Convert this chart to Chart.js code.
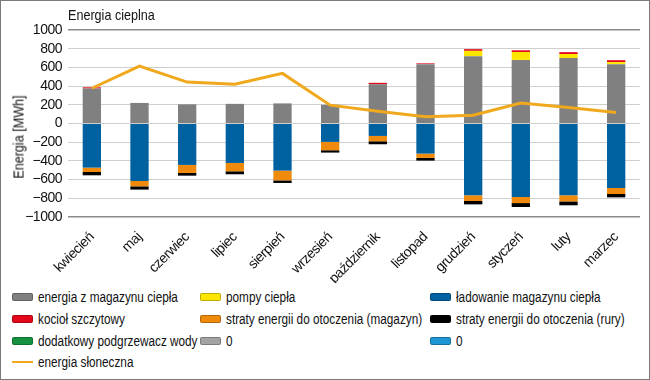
<!DOCTYPE html>
<html>
<head>
<meta charset="utf-8">
<script src="https://cdn.jsdelivr.net/npm/chart.js@4.4.1/dist/chart.umd.min.js"></script>
<style>
  body { margin: 0; background: #fff; }
  #box {
    position: relative; width: 650px; height: 380px; box-sizing: border-box;
    border: 1px solid #7a7a7a; background: #fff; overflow: hidden;
    font-family: 'Liberation Sans', Arial, sans-serif;
    color: #111;
  }
  #wrap { position: absolute; left: 0; top: 0; width: 648px; height: 282px; }
  .narrow { display: inline-block; transform: scaleX(0.84); transform-origin: left center; white-space: nowrap; }
  #title { position: absolute; left: 67px; top: 5px; font-size: 15px; }
  #ytitle {
    position: absolute; left: 17px; top: 136px; font-size: 15px; white-space: nowrap;
    transform: translate(-50%, -50%) rotate(-90deg) scaleX(0.84);
  }
  #legend { position: absolute; left: 0; top: 285px; width: 648px; height: 92px; }
  .item { position: absolute; display: flex; align-items: center; font-size: 14px; white-space: nowrap; }
  .sw { width: 21px; height: 8px; border-radius: 2px; margin-right: 5px; box-sizing: border-box; flex: none; }
  .ln { width: 21px; height: 2px; margin-right: 5px; flex: none; }
</style>
</head>
<body>
<div id="box">
  <div id="wrap"><canvas id="chart"></canvas></div>
  <div id="title"><span class="narrow">Energia cieplna</span></div>
  <div id="ytitle">Energia [MWh]</div>
  <div id="legend"></div>
</div>
<script>
const months = ['kwiecień', 'maj', 'czerwiec', 'lipiec', 'sierpień', 'wrzesień',
    'październik', 'listopad', 'grudzień', 'styczeń', 'luty', 'marzec'];

// positive side (MWh)
const zMagazynu = [375, 220, 205, 210, 215, 200, 420, 635, 720, 680, 700, 635];
const pompy = [0, 0, 0, 0, 0, 0, 0, 0, 57, 85, 43, 22];
const kociol = [12, 0, 0, 0, 0, 0, 15, 8, 18, 18, 20, 20];
const podgrzewacz = [0, 0, 0, 0, 0, 0, 0, 0, 0, 0, 0, 0];
const zeroA = [0, 0, 0, 0, 0, 0, 0, 0, 0, 0, 0, 0];

// negative side (MWh)
const ladowanie = [-472, -615, -443, -422, -504, -197, -133, -322, -768, -786, -768, -690];
const stratyMagazyn = [-47, -57, -86, -89, -104, -89, -57, -46, -61, -65, -65, -64];
const stratyRury = [-35, -35, -29, -32, -28, -25, -32, -29, -36, -42, -42, -36];
const zeroB = [0, 0, 0, 0, 0, 0, 0, 0, 0, 0, 0, 0];

const sloneczna = [377, 614, 443, 421, 536, 196, 132, 71, 89, 218, 171, 118];

const yTicks = [-1000, -800, -600, -400, -200, 0, 200, 400, 600, 800, 1000];

Chart.defaults.font.family = "'Liberation Sans', Arial, sans-serif";
Chart.defaults.font.size = 13;
Chart.defaults.color = '#111';

function bar(label, data, color) {
    return {
        type: 'bar', label: label, data: data, backgroundColor: color,
        stack: 's', categoryPercentage: 0.8, barPercentage: 0.48, borderWidth: 0
    };
}

const datasets = [
    bar('energia z magazynu ciepła', zMagazynu, '#808080'),
    bar('pompy ciepła', pompy, '#ffe600'),
    bar('ładowanie magazynu ciepła', ladowanie, '#0061a1'),
    bar('kocioł szczytowy', kociol, '#e2071a'),
    bar('straty energii do otoczenia (magazyn)', stratyMagazyn, '#f08a0c'),
    bar('straty energii do otoczenia (rury)', stratyRury, '#000000'),
    bar('dodatkowy podgrzewacz wody', podgrzewacz, '#16913f'),
    bar('0', zeroA, '#a3a3a3'),
    bar('0', zeroB, '#1f97d4'),
    {
        type: 'line', label: 'energia słoneczna', data: sloneczna,
        borderColor: '#f0a81c', backgroundColor: '#f0a81c', borderWidth: 3,
        pointRadius: 0, tension: 0, stack: 'line', order: -1
    }
];

// three-column legend built from the datasets
const legend = document.getElementById('legend');
const colX = [11, 199, 429];
const rowY = [3, 25, 47, 68];
datasets.forEach((ds, i) => {
    const item = document.createElement('div');
    item.className = 'item';
    item.style.left = colX[i % 3] + 'px';
    item.style.top = rowY[Math.floor(i / 3)] + 'px';
    const sw = document.createElement('span');
    if (ds.type === 'line') {
        sw.className = 'ln';
        sw.style.background = ds.borderColor;
    } else {
        sw.className = 'sw';
        sw.style.background = ds.backgroundColor;
        sw.style.border = '1px solid rgba(0,0,0,0.25)';
    }
    const txt = document.createElement('span');
    txt.className = 'narrow';
    txt.textContent = ds.label;
    item.appendChild(sw);
    item.appendChild(txt);
    legend.appendChild(item);
});

// tighter letter spacing so the canvas text looks condensed
const condensed = {
    id: 'condensed',
    beforeInit: (chart) => { chart.ctx.letterSpacing = '-0.5px'; },
    beforeDraw: (chart) => { chart.ctx.letterSpacing = '-0.5px'; }
};

new Chart(document.getElementById('chart'), {
    data: { labels: months, datasets: datasets },
    plugins: [condensed],
    options: {
        responsive: true,
        maintainAspectRatio: false,
        animation: false,
        layout: { padding: { top: 29, right: 9, bottom: 0, left: 0 } },
        plugins: { legend: { display: false }, tooltip: { enabled: false } },
        scales: {
            x: {
                stacked: true,
                grid: { display: false },
                border: { display: false },
                ticks: { minRotation: 45, maxRotation: 45, padding: 4, color: '#111', font: { size: 14 } },
                afterFit: (scale) => { scale.height = 66; }
            },
            y: {
                stacked: true,
                min: -1000, max: 1000,
                afterBuildTicks: (scale) => { scale.ticks = yTicks.map(v => ({ value: v })); },
                ticks: {
                    autoSkip: false,
                    padding: 6, color: '#111', font: { size: 14 },
                    callback: (v) => v < 0 ? '\u2212' + Math.abs(v) : v
                },
                grid: {
                    drawTicks: false,
                    color: (ctx) => Math.abs(ctx.tick.value) === 1000 ? '#8a8a8a' : '#cfcfcf',
                    lineWidth: (ctx) => Math.abs(ctx.tick.value) === 1000 ? 1.5 : 1
                },
                border: { display: false },
                afterFit: (scale) => { scale.width = 67; }
            }
        }
    }
});
</script>
</body>
</html>
